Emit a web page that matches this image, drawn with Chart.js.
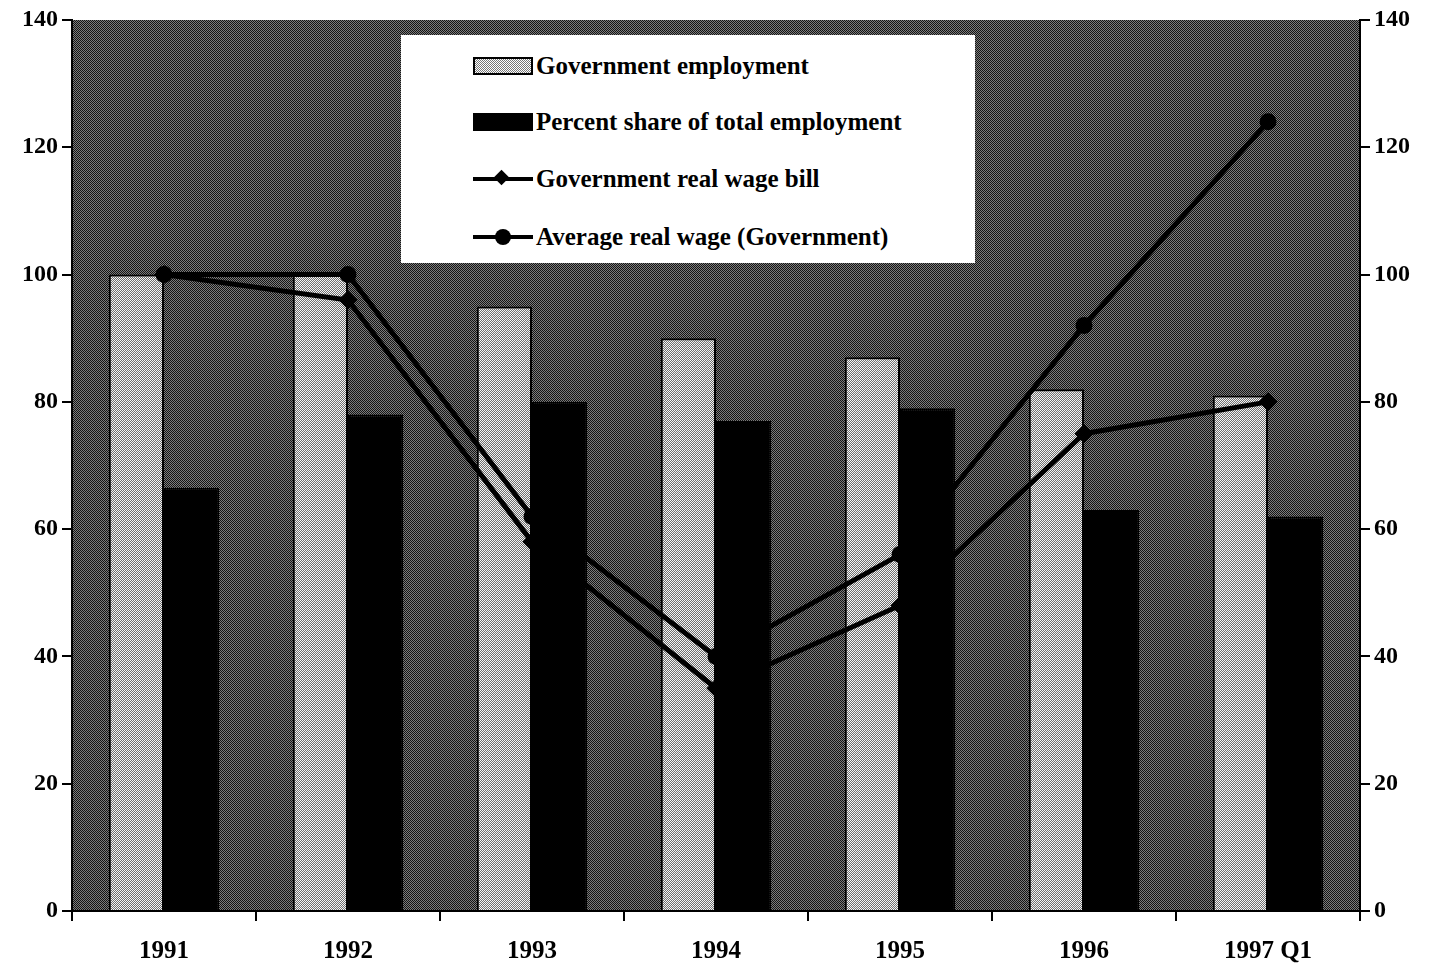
<!DOCTYPE html>
<html>
<head>
<meta charset="utf-8">
<script src="https://cdn.jsdelivr.net/npm/chart.js@4/dist/chart.umd.min.js"></script>
<style>
  body { margin: 0; background: #fff; }
  #wrap { position: relative; width: 1430px; height: 968px; }
  #legend {
    position: absolute; left: 401px; top: 35px; width: 574px; height: 228px;
    background: #fff; font-family: "Liberation Serif", "Times New Roman", serif;
    font-weight: bold; font-size: 25px; color: #000;
  }
  .row { position: absolute; left: 72px; height: 30px; display: flex; align-items: center; }
  .sw { width: 60px; height: 18px; margin-right: 3px; box-sizing: border-box; }
  .light { border: 2px solid #000; background: repeating-conic-gradient(#fff 0 25%, #777 0 50%) 0 0 / 2px 2px; }
  .dark { background: #000; }
  .ln { position: relative; width: 60px; height: 18px; margin-right: 3px; }
  .ln::before { content: ""; position: absolute; left: 0; right: 0; top: 7px; height: 4px; background: #000; }
  .dia { position: absolute; left: 23px; top: 2px; width: 11px; height: 11px; background: #000; transform: rotate(45deg); }
  .dot { position: absolute; left: 22px; top: 1px; width: 16px; height: 16px; border-radius: 50%; background: #000; }
</style>
</head>
<body>
<div id="wrap">
  <canvas id="myChart"></canvas>
  <div id="legend">
    <div class="row" style="top:16px"><div class="sw light"></div>Government employment</div>
    <div class="row" style="top:72px"><div class="sw dark"></div>Percent share of total employment</div>
    <div class="row" style="top:129px"><div class="ln"><div class="dia"></div></div>Government real wage bill</div>
    <div class="row" style="top:187px"><div class="ln"><div class="dot"></div></div>Average real wage (Government)</div>
  </div>
</div>
<script>
// values (index 1991 = 100)
const years = ['1991', '1992', '1993', '1994', '1995', '1996', '1997 Q1'];
const govEmployment = [100, 100, 95, 90, 87, 82, 81];
const shareOfTotal = [66.5, 78, 80, 77, 79, 63, 62];
const realWageBill = [100, 96, 58, 35, 48, 75, 80];
const avgRealWage = [100, 100, 62, 40, 56, 92, 124];
const yTicks = [0, 20, 40, 60, 80, 100, 120, 140];

// small dither patterns to look like the halftone scan
const makePattern = (c1, c2) => {
    const p = document.createElement('canvas');
    p.width = 2; p.height = 2;
    const g = p.getContext('2d');
    g.fillStyle = c2; g.fillRect(0, 0, 2, 2);
    g.fillStyle = c1; g.fillRect(0, 0, 1, 1); g.fillRect(1, 1, 1, 1);
    return g.createPattern(p, 'repeat');
};

const bgPattern = makePattern('#141414', '#7c7c7c');
const barPattern = makePattern('#f4f4f4', '#6e6e6e');

const plotBackground = {
    id: 'plotBackground',
    beforeDraw(chart) {
        const { ctx, chartArea } = chart;
        ctx.save();
        ctx.fillStyle = bgPattern;
        ctx.fillRect(chartArea.left, chartArea.top, chartArea.right - chartArea.left, chartArea.bottom - chartArea.top);
        ctx.restore();
    }
};

const font = { family: '"Liberation Serif", "Times New Roman", serif', weight: 'bold', size: 24 };

const yAxis = (pos) => ({
    position: pos,
    min: 0,
    max: 140,
    afterBuildTicks: s => { s.ticks = yTicks.map(v => ({ value: v })); },
    afterFit: s => { s.width = pos === 'left' ? 72 : 70; },
    border: { color: '#000', width: 2 },
    grid: { drawOnChartArea: false, color: '#000', lineWidth: 2, tickLength: 10 },
    ticks: { color: '#000', font: font, padding: 4 }
});

const ctx = document.getElementById('myChart').getContext('2d');
new Chart(ctx, {
    data: {
        labels: years,
        datasets: [
            {
                type: 'line',
                label: 'Government real wage bill',
                data: realWageBill,
                borderColor: '#000',
                backgroundColor: '#000',
                borderWidth: 5,
                pointStyle: 'rectRot',
                pointRadius: 6,
                order: 0
            },
            {
                type: 'line',
                label: 'Average real wage (Government)',
                data: avgRealWage,
                borderColor: '#000',
                backgroundColor: '#000',
                borderWidth: 5,
                pointStyle: 'circle',
                pointRadius: 6,
                order: 0
            },
            {
                type: 'bar',
                label: 'Government employment',
                data: govEmployment,
                backgroundColor: barPattern,
                borderColor: '#000',
                borderWidth: 2,
                categoryPercentage: 0.6,
                barPercentage: 1.0,
                order: 1
            },
            {
                type: 'bar',
                label: 'Percent share of total employment',
                data: shareOfTotal,
                backgroundColor: '#000',
                borderColor: '#000',
                borderWidth: 2,
                categoryPercentage: 0.6,
                barPercentage: 1.0,
                order: 1
            }
        ]
    },
    options: {
        responsive: true,
        maintainAspectRatio: false,
        animation: false,
        layout: { padding: { top: 20, left: 0, right: 0, bottom: 0 } },
        plugins: {
            legend: { display: false },
            tooltip: { enabled: false }
        },
        scales: {
            x: {
                offset: true,
                afterFit: s => { s.height = 57; },
                border: { color: '#000', width: 2 },
                grid: { offset: true, drawOnChartArea: false, color: '#000', lineWidth: 2, tickLength: 10 },
                ticks: { color: '#000', font: { ...font, size: 25 }, padding: 16, maxRotation: 0 }
            },
            y: yAxis('left'),
            y2: yAxis('right')
        }
    },
    plugins: [plotBackground]
});
</script>
</body>
</html>
